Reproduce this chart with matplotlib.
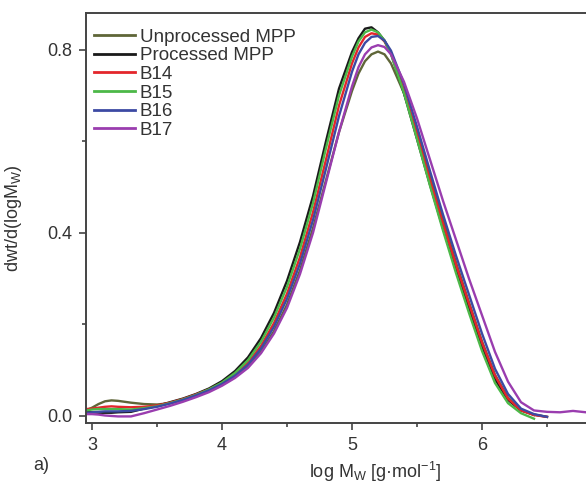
import numpy as np
import matplotlib
matplotlib.use('Agg')
import matplotlib.pyplot as plt

plt.rcParams['font.family'] = ['Liberation Sans', 'DejaVu Sans']
plt.rcParams['mathtext.default'] = 'regular'

nan = np.nan
logm = [2.95, 3.0, 3.05, 3.1, 3.15, 3.2, 3.3, 3.4, 3.5, 3.6, 3.7, 3.8, 3.9,
        4.0, 4.1, 4.2, 4.3, 4.4, 4.5, 4.6, 4.7, 4.8, 4.9, 5.0, 5.05, 5.1,
        5.15, 5.2, 5.25, 5.3, 5.4, 5.5, 5.6, 5.7, 5.8, 5.9, 6.0, 6.1, 6.2,
        6.3, 6.4, 6.5, 6.6, 6.7, 6.8]

unprocessed = [0.012, 0.018, 0.026, 0.032, 0.034, 0.033, 0.029, 0.026, 0.025,
               0.028, 0.035, 0.043, 0.054, 0.068, 0.085, 0.108, 0.140, 0.185,
               0.243, 0.318, 0.410, 0.515, 0.620, 0.710, 0.748, 0.775, 0.790,
               0.796, 0.790, 0.770, 0.705, 0.620, 0.525, 0.430, 0.335, 0.248,
               0.163, 0.090, 0.040, 0.013, 0.002, nan, nan, nan, nan]
processed = [0.008, 0.008, 0.007, 0.007, 0.007, 0.008, 0.009, 0.016, 0.022,
             0.030, 0.038, 0.048, 0.060, 0.076, 0.098, 0.128, 0.170, 0.225,
             0.295, 0.380, 0.480, 0.600, 0.715, 0.795, 0.825, 0.846, 0.849,
             0.838, 0.820, 0.792, 0.705, 0.605, 0.505, 0.410, 0.320, 0.235,
             0.152, 0.080, 0.035, 0.012, 0.003, -0.002, nan, nan, nan]
b14 = [0.015, 0.016, 0.018, 0.020, 0.021, 0.020, 0.019, 0.020, 0.023, 0.029,
       0.037, 0.047, 0.058, 0.072, 0.090, 0.116, 0.153, 0.203, 0.267, 0.347,
       0.445, 0.560, 0.678, 0.770, 0.805, 0.828, 0.836, 0.833, 0.818, 0.792,
       0.712, 0.615, 0.515, 0.420, 0.330, 0.245, 0.160, 0.088, 0.038, 0.012,
       0.002, -0.002, nan, nan, nan]
b15 = [0.012, 0.014, 0.015, 0.015, 0.015, 0.015, 0.014, 0.017, 0.021, 0.028,
       0.036, 0.046, 0.058, 0.073, 0.094, 0.122, 0.162, 0.215, 0.282, 0.365,
       0.465, 0.585, 0.700, 0.785, 0.818, 0.838, 0.844, 0.838, 0.820, 0.790,
       0.705, 0.605, 0.503, 0.405, 0.312, 0.225, 0.142, 0.072, 0.028, 0.006,
       -0.006, nan, nan, nan, nan]
b16 = [0.006, 0.008, 0.009, 0.010, 0.010, 0.010, 0.011, 0.015, 0.020, 0.027,
       0.035, 0.045, 0.056, 0.070, 0.088, 0.112, 0.147, 0.195, 0.256, 0.333,
       0.428, 0.540, 0.655, 0.752, 0.790, 0.815, 0.828, 0.830, 0.820, 0.798,
       0.725, 0.632, 0.535, 0.440, 0.350, 0.265, 0.180, 0.103, 0.048, 0.016,
       0.004, -0.002, nan, nan, nan]
b17 = [0.004, 0.004, 0.003, 0.001, 0.000, -0.001, -0.001, 0.006, 0.014, 0.022,
       0.031, 0.041, 0.052, 0.066, 0.083, 0.105, 0.137, 0.180, 0.236, 0.310,
       0.400, 0.510, 0.620, 0.720, 0.762, 0.790, 0.805, 0.810, 0.806, 0.790,
       0.730, 0.650, 0.560, 0.470, 0.385, 0.300, 0.220, 0.140, 0.075, 0.030,
       0.012, 0.009, 0.008, 0.011, 0.008]

names = ['Unprocessed MPP', 'Processed MPP', 'B14', 'B15', 'B16', 'B17']
colors = ['#5f6638', '#1a1a1a', '#e3262b', '#4cb848', '#3c4aa3', '#9a3daf']
series = [unprocessed, processed, b14, b15, b16, b17]

fig = plt.figure(figsize=(5.86, 4.86), dpi=100)
ax = fig.add_axes([0.147, 0.130, 0.853, 0.843])

for name, c, y in zip(names, colors, series):
    ax.plot(logm, y, color=c, lw=1.7, label=name)

ax.set_xlim(2.955, 6.8)
ax.set_ylim(-0.015, 0.88)
ax.set_xticks([3, 4, 5, 6])
ax.set_xticks([3.5, 4.5, 5.5, 6.5], minor=True)
ax.set_yticks([0.0, 0.4, 0.8])
ax.set_yticks([0.2, 0.6], minor=True)
ax.yaxis.set_major_formatter(matplotlib.ticker.FormatStrFormatter('%.1f'))

for s in ['left', 'bottom', 'top']:
    ax.spines[s].set_color('#444444')
    ax.spines[s].set_linewidth(1.4)
ax.spines['right'].set_visible(False)
ax.tick_params(which='major', length=5, width=1.2, color='#444444',
               labelsize=13, labelcolor='#333333', pad=5)
ax.tick_params(which='minor', length=3, width=1.2, color='#444444')

ax.set_ylabel('dwt/d(logM$_W$)', fontsize=13, color='#333333')
ax.yaxis.set_label_coords(-0.125, 0.5)
ax.set_xlabel('log M$_W$ [g·mol$^{−1}$]', fontsize=13, color='#333333')
ax.xaxis.set_label_coords(0.578, -0.09)
fig.text(0.057, 0.033, 'a)', fontsize=13, color='#333333')

leg = ax.legend(loc='upper left', bbox_to_anchor=(0.0, 0.98), frameon=False,
                fontsize=13.5, handlelength=2.2, handletextpad=0.25,
                labelspacing=0.075, borderaxespad=0.0)
for line in leg.get_lines():
    line.set_linewidth(2)
for t in leg.get_texts():
    t.set_color('#333333')

fig.savefig('out.png', dpi=100)
